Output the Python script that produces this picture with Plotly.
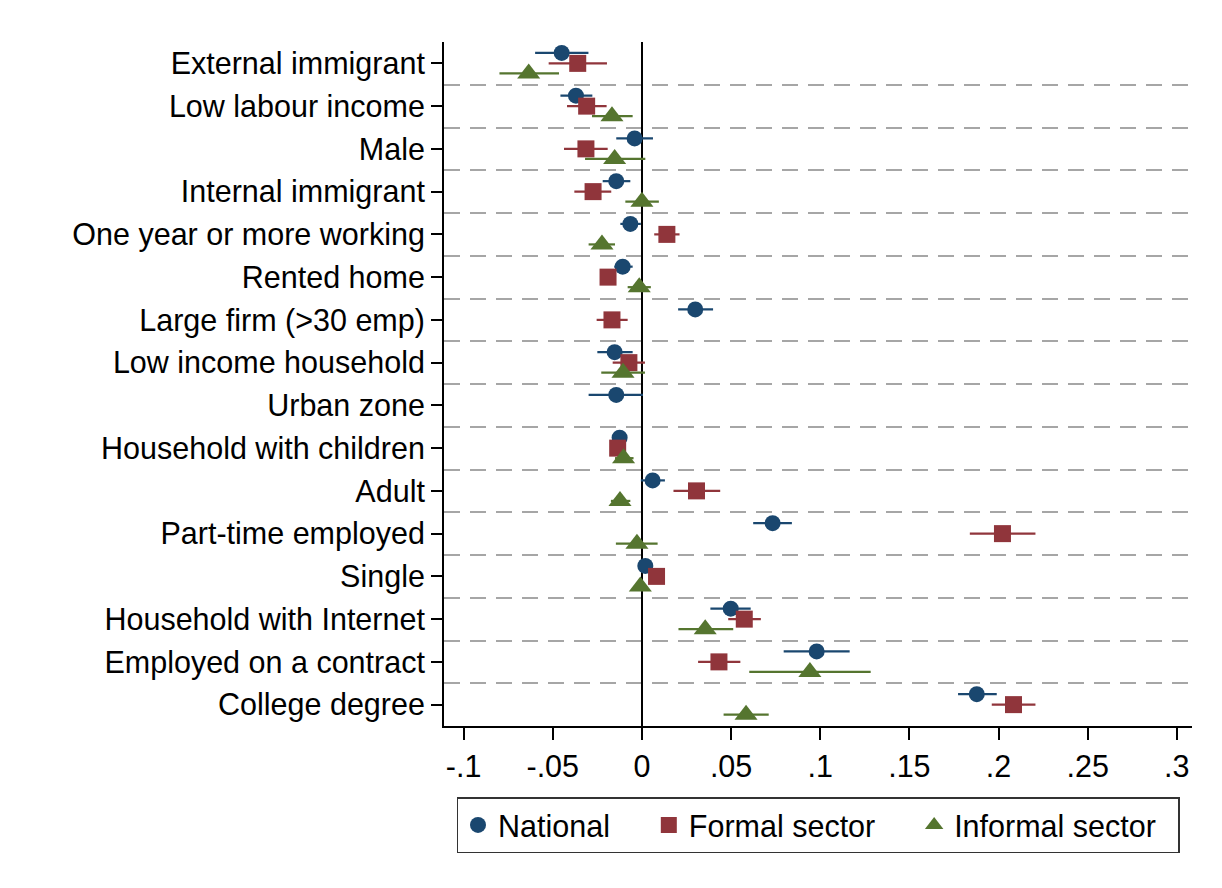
import plotly.graph_objects as go

# Covariates, top to bottom
categories = [
    "External immigrant", "Low labour income", "Male", "Internal immigrant",
    "One year or more working", "Rented home", "Large firm (>30 emp)",
    "Low income household", "Urban zone", "Household with children",
    "Adult", "Part-time employed", "Single", "Household with Internet",
    "Employed on a contract", "College degree",
]

# Point estimates and 95% confidence bounds (None = not estimated)
national_est = [-0.0450, -0.0370, -0.0041, -0.0144, -0.0065, -0.0108, 0.0299, -0.0153,
                -0.0144, -0.0125, 0.0060, 0.0733, 0.0019, 0.0498, 0.0980, 0.1878]
national_lo = [-0.0599, -0.0457, -0.0144, -0.0220, -0.0121, -0.0155, 0.0203, -0.0250,
               -0.0299, -0.0145, -0.0006, 0.0624, -0.0011, 0.0384, 0.0795, 0.1773]
national_hi = [-0.0300, -0.0278, 0.0062, -0.0065, -0.0006, -0.0052, 0.0399, -0.0052,
               0.0006, -0.0105, 0.0129, 0.0841, 0.0049, 0.0610, 0.1165, 0.1990]

formal_est = [-0.0360, -0.0310, -0.0314, -0.0274, 0.0140, -0.0190, -0.0168, -0.0073,
              None, -0.0136, 0.0306, 0.2022, 0.0082, 0.0574, 0.0432, 0.2084]
formal_lo = [-0.0523, -0.0420, -0.0437, -0.0379, 0.0069, -0.0230, -0.0254, -0.0164,
             None, -0.0160, 0.0177, 0.1839, 0.0052, 0.0484, 0.0315, 0.1962]
formal_hi = [-0.0196, -0.0198, -0.0192, -0.0172, 0.0211, -0.0150, -0.0080, 0.0017,
             None, -0.0112, 0.0439, 0.2207, 0.0112, 0.0667, 0.0552, 0.2207]

informal_est = [-0.0635, -0.0168, -0.0153, 0.0000, -0.0224, -0.0015, None, -0.0106,
                None, -0.0103, -0.0123, -0.0028, -0.0009, 0.0355, 0.0942, 0.0584]
informal_lo = [-0.0799, -0.0280, -0.0319, -0.0093, -0.0299, -0.0080, None, -0.0228,
               None, -0.0151, -0.0174, -0.0146, -0.0039, 0.0205, 0.0602, 0.0458]
informal_hi = [-0.0465, -0.0052, 0.0019, 0.0095, -0.0151, 0.0050, None, 0.0017,
               None, -0.0047, -0.0065, 0.0088, 0.0021, 0.0512, 0.1283, 0.0711]

x_tick_vals = [-0.1, -0.05, 0, 0.05, 0.1, 0.15, 0.2, 0.25, 0.3]
x_tick_text = ["-.1", "-.05", "0", ".05", ".1", ".15", ".2", ".25", ".3"]

FONT = "Liberation Sans, Arial, sans-serif"
FS = 30.5
PAD = "\u00a0" * 4  # breathing room between legend entries

series = [
    ("National", national_est, national_lo, national_hi, "#1a476f", "circle", 16, -0.245, PAD),
    ("Formal sector", formal_est, formal_lo, formal_hi, "#90353b", "square", 17, 0.0, PAD),
    ("Informal sector", informal_est, informal_lo, informal_hi, "#55752f", "triangle-up", 20, 0.235, "\u00a0" * 2),
]

fig = go.Figure()
for name, est, lo, hi, color, symbol, size, offset, pad in series:
    xs, ys, plus, minus = [], [], [], []
    for i, (e, l, h) in enumerate(zip(est, lo, hi)):
        if e is None:
            continue
        xs.append(e)
        ys.append(i + 1 + offset)
        plus.append(h - e)
        minus.append(e - l)
    fig.add_trace(go.Scatter(
        x=xs, y=ys, mode="markers", name=name + pad,
        marker=dict(color=color, symbol=symbol, size=size, line=dict(width=0)),
        error_x=dict(type="data", array=plus, arrayminus=minus, symmetric=False,
                     color=color, thickness=2.2, width=0),
    ))

row_ids = list(range(1, len(categories) + 1))
separators = [r + 0.5 for r in row_ids[:-1]]

fig.update_layout(
    width=1222, height=888,
    margin=dict(l=444, r=30, t=42, b=162),
    paper_bgcolor="white", plot_bgcolor="white",
    font=dict(family=FONT, size=FS, color="black"),
    showlegend=True,
    legend=dict(
        orientation="h", x=0.5, xanchor="center", y=-0.104, yanchor="top",
        bordercolor="#333333", borderwidth=1.5, bgcolor="white",
        font=dict(family=FONT, size=FS, color="black"),
        itemwidth=30,
    ),
    xaxis=dict(
        range=[-0.111, 0.3085], tickvals=x_tick_vals, ticktext=x_tick_text,
        showgrid=False, zeroline=True, zerolinecolor="black", zerolinewidth=2,
        showline=True, linecolor="black", linewidth=2,
        ticks="outside", ticklen=12, tickwidth=2, tickcolor="black",
        tickfont=dict(family=FONT, size=FS, color="black"),
    ),
    yaxis=dict(
        range=[len(categories) + 0.5, 0.5], tickvals=row_ids, ticktext=categories,
        showgrid=False, zeroline=False,
        showline=True, linecolor="black", linewidth=2,
        ticks="outside", ticklen=11, tickwidth=2, tickcolor="black",
        tickfont=dict(family=FONT, size=FS, color="black"),
        minor=dict(tickvals=separators, showgrid=True, griddash="16px,10px",
                   gridcolor="#a6a6a6", gridwidth=1.6, ticks=""),
    ),
)

fig.write_html("out.html")
